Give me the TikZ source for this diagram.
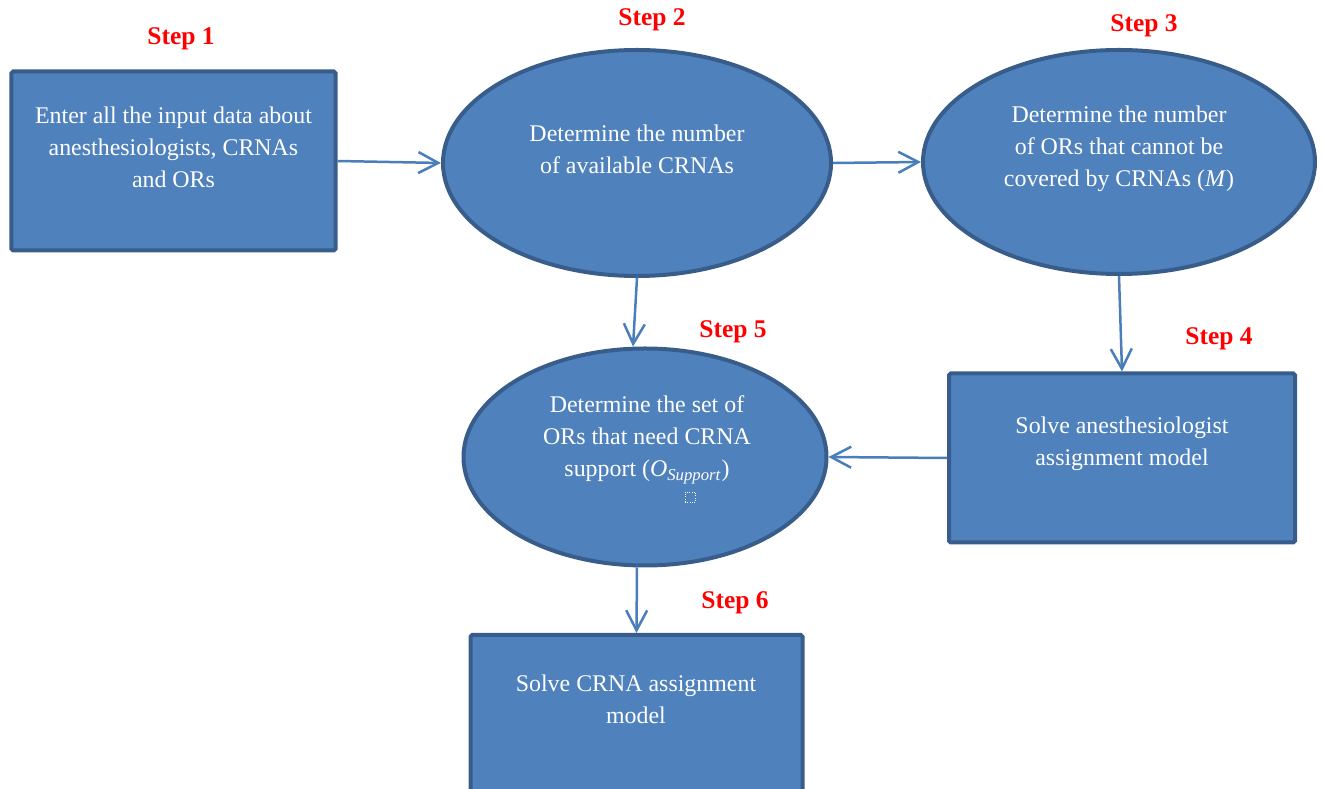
\documentclass[tikz,border=0pt]{standalone}
\usepackage{fontspec}
\setmainfont{Liberation Serif}
\usetikzlibrary{shapes.geometric,arrows.meta}
\definecolor{stepfill}{HTML}{4F81BD}
\definecolor{stepline}{HTML}{385D8A}
\definecolor{arrowblue}{HTML}{4A7EBB}

\begin{document}
\begin{tikzpicture}[x=0.2mm,y=0.2mm,
box/.style={rectangle,draw=stepline,fill=stepfill,line width=0.8mm,rounded corners=1pt,inner sep=0pt},
oval/.style={ellipse,draw=stepline,fill=stepfill,line width=0.8mm,inner sep=0pt},
txt/.style={text=white,align=center,font=\fontsize{13.6}{18.2}\selectfont},
steplabel/.style={text=red,font=\fontsize{14.5}{17}\selectfont\bfseries},
link/.style={draw=arrowblue,line width=0.5mm,-{Straight Barb[length=4mm,width=4.2mm]}},
faint/.style={draw=arrowblue,line width=0.5mm,opacity=0.3}]
\clip (0,0) rectangle (1322,789);
\node[box,minimum width=64.8mm,minimum height=35.8mm] (b1) at (173.5,628) {};
\node[oval,minimum width=77.6mm,minimum height=45.2mm] (e2) at (637,626) {};
\node[oval,minimum width=78.4mm,minimum height=44.8mm] (e3) at (1119,627) {};
\node[box,minimum width=69.2mm,minimum height=33.8mm] (b4) at (1122,331) {};
\node[oval,minimum width=72.6mm,minimum height=43.4mm] (e5) at (645,332) {};
\node[box,minimum width=66.4mm,minimum height=40mm] (b6) at (636.5,54) {};

\node[txt] (t1) at (173.5,642) {Enter all the input data about\\anesthesiologists, CRNAs\\and ORs};
\node[txt] (t2) at (637,640) {Determine the number\\of available CRNAs};
\node[txt] (t3) at (1119,640) {Determine the number\\of ORs that cannot be\\covered by CRNAs (\textit{M})};
\node[txt] (t4) at (1122,345) {Solve anesthesiologist\\assignment model};
\node[txt] (t5) at (647,349) {Determine the set of\\ORs that need CRNA\\support (\textit{O}\textsubscript{\textit{Support}})};
\node[txt] (t6) at (636,90) {Solve CRNA assignment\\model};
\node[draw=white,densely dotted,line width=0.3pt,minimum size=2mm,inner sep=0pt] (ph) at (690,292) {};

\node[steplabel] (s1) at (181,750) {Step 1};
\node[steplabel] (s2) at (652,769) {Step 2};
\node[steplabel] (s3) at (1144,763) {Step 3};
\node[steplabel] (s4) at (1219,450) {Step 4};
\node[steplabel] (s5) at (733,457) {Step 5};
\node[steplabel] (s6) at (735,186) {Step 6};

\coordinate (e2in) at (637,609);
\coordinate (e5in) at (637,312);
\draw[link] (b1.east) -- (e2.west);
\draw[link] (e2.east) -- (e3.west);
\draw[link] (e3.south) -- (b4.north);
\draw[link] (b4.west) -- (e5.east);
\draw[faint] (e2in) -- (e2.south);
\draw[link] (e2.south) -- ([xshift=-2.4mm]e5.north);
\draw[faint] (e5in) -- (e5in |- e5.south);
\draw[link] (e5in |- e5.south) -- (b6.north);
\end{tikzpicture}
\end{document}
